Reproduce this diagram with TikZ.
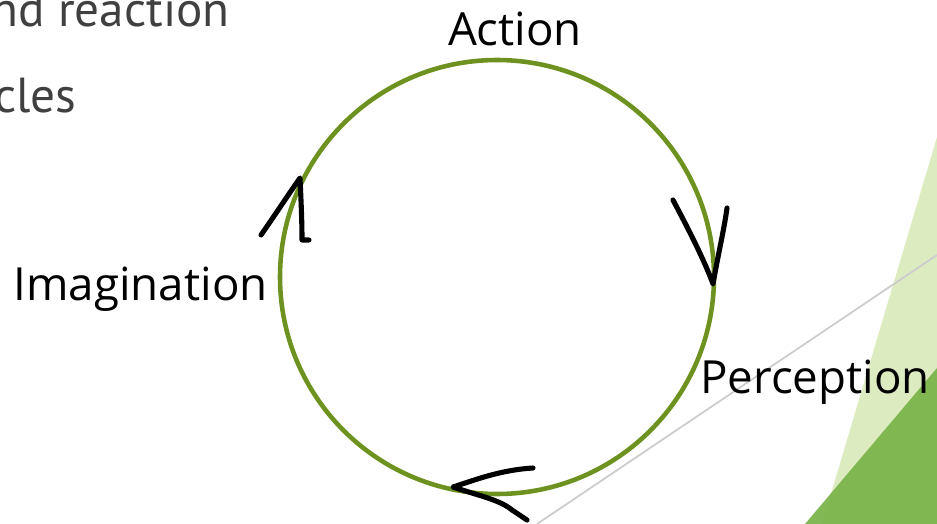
\documentclass[tikz,border=0pt]{standalone}
\usepackage{fontspec}
\setmainfont{Open Sans}
\newfontfamily\slidefont{PT Sans}
\definecolor{ringgreen}{RGB}{110,146,32}
\definecolor{palegreen}{RGB}{221,235,193}
\definecolor{leafgreen}{RGB}{122,180,72}
\definecolor{slidegray}{RGB}{64,64,64}
\tikzset{
    normal/.style={draw, semithick},
    ring/.style={draw=ringgreen, line width=2.6pt},
    lbl/.style={inner sep=0pt, font=\fontsize{26}{30}\selectfont},
    bullet/.style={inner sep=0pt, text=slidegray, font=\slidefont\fontsize{28}{32}\selectfont},
    ink/.style={draw=black, line width=2.9pt, line cap=round, line join=round}, % hand drawn marks
    rule/.style={draw=black!20, line width=1pt}
}

\begin{document}
\begin{tikzpicture}[x=0.02cm, y=-0.02cm]
        \useasboundingbox (0,0) rectangle (937,524);
        \clip (0,0) rectangle (937,524);

        % slide decoration
        \fill[palegreen] (937,137) -- (822,524) -- (937,524) -- cycle;
        \fill[leafgreen, opacity=0.93] (937,368) -- (805,524) -- (937,524) -- cycle;
        \coordinate (rA) at (537,524);
        \coordinate (rB) at (937,255);
        \draw[rule] (rA) -- (rB);

        % text left over from the slide (cut by the slide edge)
        \node[bullet, anchor=base east] (reac) at (230,27) {nd reaction};
        \node[bullet, anchor=base east] (cyc) at (77,112) {cles};

        % the cycle
        \node[ring, circle, minimum size=434*0.02cm] (C) at (497,277) {};

        \node[lbl, anchor=base] (act) at (515,45) {Action};
        \node[lbl, anchor=base west] (per) at (700,393) {Perception};
        \node[lbl, anchor=base east] (ima) at (268,300) {Imagination};

        % hand drawn arrow heads
        \coordinate (tipP) at (713,284);
        \draw[ink] (673,200) .. controls (690,232) and (705,262) .. (tipP)
            .. controls (718,255) and (724,230) .. (727,208);
        \coordinate (tipI) at (453,487);
        \draw[ink] (533,468) .. controls (500,470) and (475,480) .. (tipI)
            .. controls (480,496) and (500,500) .. (512,510) -- (527,520);
        \coordinate (tipA) at (300,178);
        \draw[ink] (261,235) .. controls (275,215) and (288,195) .. (tipA)
            .. controls (301,200) and (302,220) .. (302,240) -- (309,240);
      \end{tikzpicture}
\end{document}
